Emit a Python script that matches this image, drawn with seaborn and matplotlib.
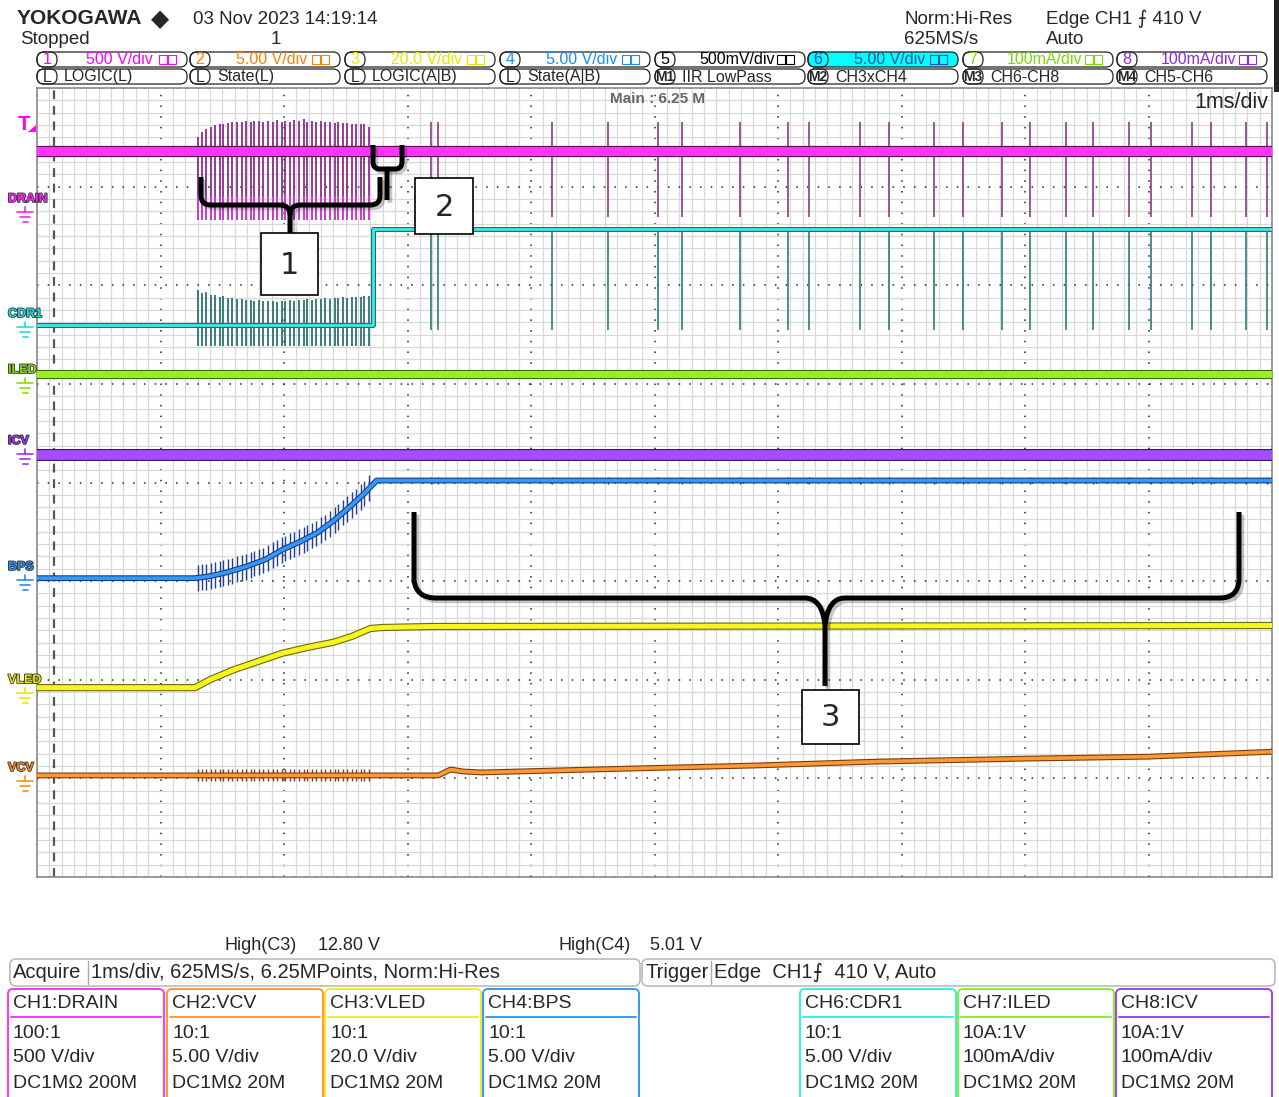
import matplotlib
matplotlib.use("Agg")
import matplotlib.pyplot as plt
import numpy as np
import seaborn as sns
from matplotlib import patheffects as pe
from matplotlib.patches import FancyBboxPatch, Rectangle, Polygon, PathPatch
from matplotlib.path import Path

# time in ms (1 ms/div, 10 div), level in screen divisions counted from the bottom (8 div)
trigger_t = 0.14

drain_level = 7.36
burst_t = [1.30, 1.34, 1.37, 1.41, 1.44, 1.48, 1.51, 1.55, 1.58, 1.62,
           1.66, 1.69, 1.73, 1.76, 1.80, 1.83, 1.87, 1.91, 1.94, 1.98,
           2.01, 2.05, 2.08, 2.12, 2.16, 2.19, 2.23, 2.26, 2.30, 2.33,
           2.37, 2.41, 2.44, 2.48, 2.51, 2.55, 2.58, 2.62, 2.65, 2.69]
drain_burst_top = [7.50, 7.55, 7.58, 7.60, 7.62, 7.63, 7.64, 7.65, 7.66, 7.66,
                   7.66, 7.67, 7.66, 7.67, 7.67, 7.66, 7.67, 7.66, 7.68, 7.66,
                   7.67, 7.66, 7.68, 7.67, 7.69, 7.66, 7.67, 7.66, 7.67, 7.66,
                   7.66, 7.65, 7.66, 7.65, 7.65, 7.64, 7.64, 7.63, 7.64, 7.60]
drain_burst_bottom = 6.66
switch_t = [3.19, 3.25, 4.17, 4.62, 5.03, 5.22, 5.69, 6.08, 6.25, 6.66, 6.90,
            7.26, 7.50, 7.81, 8.04, 8.33, 8.55, 8.84, 9.02, 9.35, 9.51, 9.79, 9.96]
drain_spike_top = 7.66
drain_spike_bottom = 6.69

cdr1_t = [0.0, 2.72, 2.72, 10.0]
cdr1_v = [5.60, 5.60, 6.57, 6.57]
cdr1_burst_top = [5.95, 5.92, 5.93, 5.90, 5.90, 5.88, 5.89, 5.87, 5.87, 5.86,
                  5.86, 5.85, 5.85, 5.84, 5.85, 5.84, 5.84, 5.84, 5.83, 5.84,
                  5.84, 5.85, 5.84, 5.85, 5.85, 5.86, 5.85, 5.86, 5.86, 5.87,
                  5.86, 5.87, 5.87, 5.88, 5.87, 5.88, 5.88, 5.88, 5.89, 5.89]
cdr1_burst_bottom = 5.38
cdr1_spike_bottom = 5.55

iled_t = [0.0, 10.0]
iled_v = [5.10, 5.10]
icv_t = [0.0, 10.0]
icv_v = [4.28, 4.28]

bps_t = [0.0, 1.28, 1.40, 1.54, 1.70, 1.85, 1.99, 2.13, 2.27, 2.40, 2.53, 2.65, 2.75, 10.0]
bps_v = [3.03, 3.03, 3.05, 3.09, 3.15, 3.22, 3.32, 3.40, 3.49, 3.61, 3.75, 3.89, 4.02, 4.02]

vled_t = [0.0, 1.28, 1.40, 1.59, 1.80, 1.99, 2.20, 2.40, 2.55, 2.70, 2.80, 3.20, 10.0]
vled_v = [1.92, 1.92, 2.00, 2.10, 2.19, 2.27, 2.33, 2.38, 2.44, 2.52, 2.53, 2.54, 2.55]

vcv_t = [0.0, 3.25, 3.35, 3.45, 3.60, 4.50, 5.80, 6.80, 8.00, 9.00, 10.0]
vcv_v = [1.03, 1.03, 1.09, 1.07, 1.06, 1.09, 1.13, 1.17, 1.20, 1.22, 1.27]

# screen texts
trace_names = ["DRAIN", "CDR1", "ILED", "ICV", "BPS", "VLED", "VCV"]
trace_label_y = [199, 314, 370, 441, 567, 680, 768]
trace_colors = ["#ff22ff", "#22dddd", "#88dd11", "#9a33ee", "#2a8ef0", "#e8e800", "#ff8c1a"]

row1_num = ["1", "2", "3", "4", "5", "6", "7", "8"]
row1_txt = ["500 V/div", "5.00 V/div", "20.0 V/div", "5.00 V/div",
            "500mV/div", "5.00 V/div", "100mA/div", "100mA/div"]
row1_col = ["#ff00ff", "#ff8000", "#e6e600", "#1a8cff", "#000000", "#1a4fb0", "#77dd00", "#8a2be2"]
row2_tag = ["L", "L", "L", "L", "M1", "M2", "M3", "M4"]
row2_txt = ["LOGIC(L)", "State(L)", "LOGIC(A|B)", "State(A|B)",
            "IIR LowPass", "CH3xCH4", "CH6-CH8", "CH5-CH6"]
box_x = [37, 190, 345, 500, 655, 808, 963, 1117]

ch_title = ["CH1:DRAIN", "CH2:VCV", "CH3:VLED", "CH4:BPS", "CH6:CDR1", "CH7:ILED", "CH8:ICV"]
ch_probe = ["100:1", "10:1", "10:1", "10:1", "10:1", "10A:1V", "10A:1V"]
ch_scale = ["500 V/div", "5.00 V/div", "20.0 V/div", "5.00 V/div", "5.00 V/div", "100mA/div", "100mA/div"]
ch_input = ["DC1MΩ 200M", "DC1MΩ 20M", "DC1MΩ 20M", "DC1MΩ 20M", "DC1MΩ 20M", "DC1MΩ 20M", "DC1MΩ 20M"]
ch_color = ["#ff33ff", "#ff9933", "#eeee22", "#3399ff", "#33eeee", "#88ee22", "#9944ee"]
ch_x = [8, 167, 325, 483, 800, 958, 1116]

sns.set_theme(style="white")
plt.rcParams["font.family"] = ["Liberation Sans", "DejaVu Sans"]

fig = plt.figure(figsize=(12.79, 10.97), dpi=100)
ax = fig.add_axes([37 / 1279, (1097 - 877) / 1097, 1235 / 1279, 789 / 1097])
ax.set_xlim(0, 10)
ax.set_ylim(0, 8)
ax.set_xticks(np.arange(0, 10.01, 1))
ax.set_yticks(np.arange(0, 8.01, 1))
ax.set_xticks(np.arange(0, 10.001, 0.1), minor=True)
ax.set_yticks(np.arange(0, 8.001, 0.125), minor=True)
ax.grid(which="minor", color="#d8d8d8", lw=0.9, ls="-")
ax.grid(which="major", color="#222222", lw=1.1, ls=(0, (1, 6)))
ax.tick_params(which="both", length=0, labelbottom=False, labelleft=False)
ax.set_xlabel("")
ax.set_ylabel("")
for s in ax.spines.values():
    s.set_color("#8a8a8a")
    s.set_linewidth(1.2)

ax.axvline(trigger_t, color="#555555", lw=1.6, ls=(0, (4, 3)), zorder=2)


def trace(t, v, color, lw, edge, z):
    sns.lineplot(x=t, y=v, color=color, lw=lw, ax=ax, estimator=None, sort=False, zorder=z)
    ax.lines[-1].set_path_effects([pe.Stroke(linewidth=lw + 1.6, foreground=edge), pe.Normal()])


# spikes: DRAIN / CDR1 switching
ax.vlines(burst_t, drain_burst_bottom, drain_burst_top, color="#8b2f8b", lw=1.3, zorder=3)
ax.vlines(burst_t, drain_burst_bottom, drain_burst_bottom + 0.25, color="#d040d0", lw=1.3, zorder=3)
ax.vlines(switch_t, drain_spike_bottom, drain_spike_top, color="#8b3a8b", lw=1.2, zorder=3)
ax.vlines(burst_t, cdr1_burst_bottom, cdr1_burst_top, color="#2e7272", lw=1.3, zorder=3)
ax.vlines(switch_t, cdr1_spike_bottom, 6.57, color="#2e7a7a", lw=1.2, zorder=3)

bps_c = np.interp(burst_t, bps_t, bps_v)
ax.vlines(burst_t, bps_c - 0.13, bps_c + 0.13, color="#1f3f8f", lw=1.0, zorder=3)
ax.vlines(switch_t, 3.98, 4.06, color="#1f3f8f", lw=1.0, zorder=3)
ax.vlines(burst_t, 0.97, 1.09, color="#8a4212", lw=1.0, zorder=3)

trace(iled_t, iled_v, "#99ee22", 5.0, "#3d6a12", 4)
trace(icv_t, icv_v, "#a64dff", 7.0, "#3a1070", 4)
trace(bps_t, bps_v, "#3399ff", 2.6, "#1a3a80", 5)
trace(vled_t, vled_v, "#f5f520", 3.6, "#6a6a10", 4)
trace(vcv_t, vcv_v, "#ff9933", 2.6, "#7a3a10", 4)
trace(cdr1_t, cdr1_v, "#40e8e8", 2.0, "#207070", 5)
trace([0.0, 10.0], [drain_level, drain_level], "#ff33ff", 6.5, "#5a1050", 5)

# overlay in pixel coordinates for the scope screen furniture
ov = fig.add_axes([0, 0, 1, 1], zorder=10)
ov.set_xlim(0, 1279)
ov.set_ylim(1097, 0)
ov.axis("off")

ov.text(17, 19, "YOKOGAWA", fontsize=15, fontweight="bold", va="center", ha="left")
ov.text(151, 19, "◆", fontsize=17, va="center", ha="left", family="DejaVu Sans")
ov.text(193, 19, "03 Nov 2023 14:19:14", fontsize=13.5, va="center")
ov.text(20, 40, "Stopped", fontsize=13.5, va="center")
ov.text(271, 40, "1", fontsize=13.5, va="center")
ov.text(904, 19, "Norm:Hi-Res", fontsize=13.5, va="center")
ov.text(904, 40, "625MS/s", fontsize=13.5, va="center")
ov.text(1046, 19, "Edge CH1 ⨍ 410 V", fontsize=13.5, va="center")
ov.text(1046, 40, "Auto", fontsize=13.5, va="center")
ov.add_patch(Rectangle((1274, 0), 5, 92, fc="#222222", ec="none"))

for i, x0 in enumerate(box_x):
    fc = "#00ffff" if i == 5 else "white"
    ov.add_patch(FancyBboxPatch((x0, 52), 150, 15, boxstyle="round,pad=0,rounding_size=7",
                                fc=fc, ec="#222222", lw=0.9))
    ov.add_patch(FancyBboxPatch((x0, 52), 20, 15, boxstyle="round,pad=0,rounding_size=7",
                                fc="none", ec="#222222", lw=0.9))
    ov.text(x0 + 10, 60, row1_num[i], color=row1_col[i], fontsize=11.5, ha="center", va="center")
    ov.text(x0 + 82, 60, row1_txt[i], color=row1_col[i], fontsize=11.5, ha="center", va="center")
    ov.add_patch(Rectangle((x0 + 122, 55), 8, 9, fc="none", ec=row1_col[i], lw=0.8))
    ov.add_patch(Rectangle((x0 + 131, 55), 8, 9, fc="none", ec=row1_col[i], lw=0.8))
    ov.add_patch(FancyBboxPatch((x0, 69), 150, 15, boxstyle="round,pad=0,rounding_size=7",
                                fc="white", ec="#222222", lw=0.9))
    ov.add_patch(FancyBboxPatch((x0, 69), 20, 15, boxstyle="round,pad=0,rounding_size=7",
                                fc="none", ec="#222222", lw=0.9))
    ov.text(x0 + 10, 77, row2_tag[i], fontsize=10 if len(row2_tag[i]) > 1 else 11.5,
            ha="center", va="center", fontweight="bold" if len(row2_tag[i]) > 1 else "normal")
    ov.text(x0 + 27, 77, row2_txt[i], fontsize=11.5, ha="left", va="center")

ov.text(657, 99, "Main : 6.25 M", fontsize=11, color="#666666", ha="center", va="center",
        fontweight="bold")
ov.text(1268, 102, "1ms/div", fontsize=15.5, ha="right", va="center")

# trigger marker
ov.text(24, 124, "T", fontsize=15, color="#ff00ff", fontweight="bold", ha="center", va="center")
ov.add_patch(Polygon([(28, 132), (36, 132), (36, 125)], closed=True, fc="#ff00ff", ec="none"))

# channel labels and ground symbols
for name, y, c in zip(trace_names, trace_label_y, trace_colors):
    ov.text(8, y, name, fontsize=9, color=c, fontweight="bold", ha="left", va="center",
            path_effects=[pe.withStroke(linewidth=1.2, foreground="#333333")])
    gx = 25
    ov.plot([gx, gx], [y + 8, y + 13], color=c, lw=1.2)
    ov.plot([gx - 8, gx + 8], [y + 13, y + 13], color=c, lw=1.2)
    ov.plot([gx - 5, gx + 5], [y + 18, y + 18], color=c, lw=1.2)
    ov.plot([gx - 2.5, gx + 2.5], [y + 23, y + 23], color=c, lw=1.2)

# annotation braces
shadow = [pe.SimpleLineShadow(offset=(2, -2), alpha=0.25), pe.Normal()]


def brace(verts, codes):
    p = PathPatch(Path(verts, codes), fc="none", ec="black", lw=3.6, capstyle="butt",
                  joinstyle="round", path_effects=shadow)
    ov.add_patch(p)


M, L, Q = Path.MOVETO, Path.LINETO, Path.CURVE3
brace([(201, 177), (201, 196), (201, 205), (211, 205), (280, 205), (290, 205), (290, 215), (290, 233)],
      [M, L, Q, Q, L, Q, Q, L])
brace([(290, 215), (290, 205), (300, 205), (370, 205), (380, 205), (380, 196), (380, 177)],
      [M, Q, Q, L, Q, Q, L])
brace([(373, 145), (373, 162), (373, 169), (380, 169), (387, 169), (387, 200)],
      [M, L, Q, Q, L, L])
brace([(387, 169), (395, 169), (402, 169), (402, 162), (402, 145)],
      [M, L, Q, Q, L])
brace([(414, 512), (414, 580), (416, 598), (436, 598), (805, 598), (822, 598), (825, 625), (825, 686)],
      [M, L, Q, Q, L, Q, Q, L])
brace([(825, 625), (828, 598), (845, 598), (1220, 598), (1238, 598), (1239, 580), (1239, 512)],
      [M, Q, Q, L, Q, Q, L])

for (bx, by, w, h, lab) in [(261, 233, 57, 62, "1"), (415, 178, 58, 56, "2"), (802, 690, 57, 54, "3")]:
    ov.add_patch(Rectangle((bx, by), w, h, fc="white", ec="black", lw=1.2))
    ov.text(bx + w / 2, by + h / 2 + 1, lab, fontsize=22, ha="center", va="center",
            family="DejaVu Sans")

# bottom status area
ov.text(224, 946, "High(C3)", fontsize=13, va="center")
ov.text(318, 946, "12.80 V", fontsize=13, va="center")
ov.text(558, 946, "High(C4)", fontsize=13, va="center")
ov.text(650, 946, "5.01 V", fontsize=13, va="center")

ov.add_patch(FancyBboxPatch((10, 959), 630, 27, boxstyle="round,pad=0,rounding_size=6",
                            fc="white", ec="#bbbbbb", lw=1.2))
ov.plot([88, 88], [961, 984], color="#aaaaaa", lw=1)
ov.text(13, 972, "Acquire", fontsize=14.5, va="center")
ov.text(91, 972, "1ms/div, 625MS/s, 6.25MPoints, Norm:Hi-Res", fontsize=14.5, va="center")
ov.add_patch(FancyBboxPatch((642, 959), 633, 27, boxstyle="round,pad=0,rounding_size=6",
                            fc="white", ec="#bbbbbb", lw=1.2))
ov.plot([711, 711], [961, 984], color="#aaaaaa", lw=1)
ov.text(646, 972, "Trigger", fontsize=14.5, va="center")
ov.text(714, 972, "Edge  CH1⨍  410 V, Auto", fontsize=14.5, va="center")

for i, x0 in enumerate(ch_x):
    c = ch_color[i]
    ov.add_patch(FancyBboxPatch((x0, 989), 156, 120, boxstyle="round,pad=0,rounding_size=5",
                                fc="white", ec=c, lw=1.4))
    ov.plot([x0 + 3, x0 + 153], [1017, 1017], color=c, lw=1.4)
    ov.text(x0 + 5, 1004, ch_title[i], fontsize=14, va="center")
    ov.text(x0 + 5, 1033, ch_probe[i], fontsize=14, va="center")
    ov.text(x0 + 5, 1058, ch_scale[i], fontsize=14, va="center")
    ov.text(x0 + 5, 1083, ch_input[i], fontsize=14, va="center")

fig.savefig("out.png", dpi=100)
